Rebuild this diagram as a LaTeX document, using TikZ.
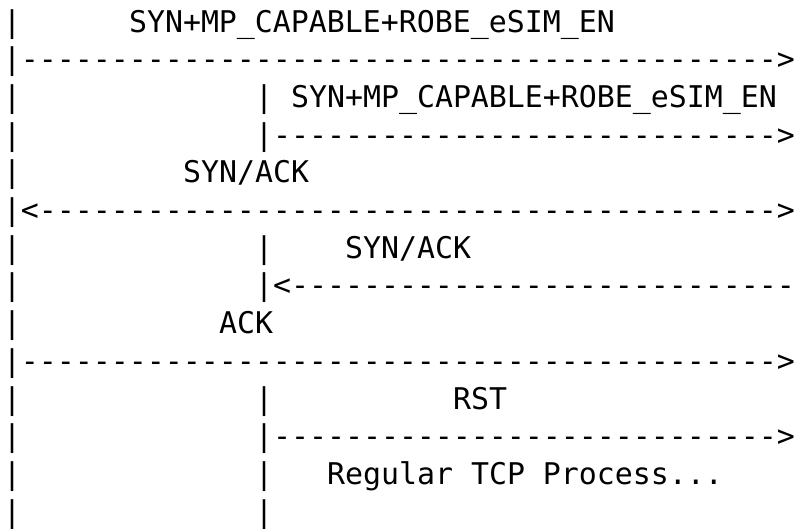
\documentclass[tikz,border=0pt]{standalone}
\usepackage{fontspec}
\setmonofont{DejaVu Sans Mono}
\ExplSyntaxOn
\cs_new:Npn \myrep #1#2 { \prg_replicate:nn {#1} {#2} }
\ExplSyntaxOff
\begin{document}
\begin{tikzpicture}[x=1pt,y=-1pt,
  asc/.style={anchor=base west,inner sep=0pt,outer sep=0pt,
    font=\ttfamily\fontsize{29.9pt}{36pt}\selectfont,text=black}]
\useasboundingbox (0,0) rectangle (796,528);
\def\cw{18}
\def\lx#1{3+\cw*#1}
\def\ly#1{32+37.7*(#1-1)}
% row 1
\node[asc] (r1a) at ({\lx{0}},{\ly{1}}) {|};
\node[asc] (r1b) at ({\lx{7}},{\ly{1}}) {SYN+MP\_CAPABLE+ROBE\_eSIM\_EN};
% row 2
\node[asc] (r2a) at ({\lx{0}},{\ly{2}}) {|\myrep{42}{-}>};
% row 3
\node[asc] (r3a) at ({\lx{0}},{\ly{3}}) {|};
\node[asc] (r3b) at ({\lx{14}},{\ly{3}}) {|};
\node[asc] (r3c) at ({\lx{16}},{\ly{3}}) {SYN+MP\_CAPABLE+ROBE\_eSIM\_EN};
% row 4
\node[asc] (r4a) at ({\lx{0}},{\ly{4}}) {|};
\node[asc] (r4b) at ({\lx{14}},{\ly{4}}) {|\myrep{28}{-}>};
% row 5
\node[asc] (r5a) at ({\lx{0}},{\ly{5}}) {|};
\node[asc] (r5b) at ({\lx{10}},{\ly{5}}) {SYN/ACK};
% row 6
\node[asc] (r6a) at ({\lx{0}},{\ly{6}}) {|<\myrep{41}{-}>};
% row 7
\node[asc] (r7a) at ({\lx{0}},{\ly{7}}) {|};
\node[asc] (r7b) at ({\lx{14}},{\ly{7}}) {|};
\node[asc] (r7c) at ({\lx{19}},{\ly{7}}) {SYN/ACK};
% row 8
\node[asc] (r8a) at ({\lx{0}},{\ly{8}}) {|};
\node[asc] (r8b) at ({\lx{14}},{\ly{8}}) {|<\myrep{28}{-}};
% row 9
\node[asc] (r9a) at ({\lx{0}},{\ly{9}}) {|};
\node[asc] (r9b) at ({\lx{12}},{\ly{9}}) {ACK};
% row 10
\node[asc] (r10a) at ({\lx{0}},{\ly{10}}) {|\myrep{42}{-}>};
% row 11
\node[asc] (r11a) at ({\lx{0}},{\ly{11}}) {|};
\node[asc] (r11b) at ({\lx{14}},{\ly{11}}) {|};
\node[asc] (r11c) at ({\lx{25}},{\ly{11}}) {RST};
% row 12
\node[asc] (r12a) at ({\lx{0}},{\ly{12}}) {|};
\node[asc] (r12b) at ({\lx{14}},{\ly{12}}) {|\myrep{28}{-}>};
% row 13
\node[asc] (r13a) at ({\lx{0}},{\ly{13}}) {|};
\node[asc] (r13b) at ({\lx{14}},{\ly{13}}) {|};
\node[asc] (r13c) at ({\lx{18}},{\ly{13}}) {Regular TCP Process...};
% row 14
\node[asc] (r14a) at ({\lx{0}},{\ly{14}}) {|};
\node[asc] (r14b) at ({\lx{14}},{\ly{14}}) {|};
\end{tikzpicture}
\end{document}
